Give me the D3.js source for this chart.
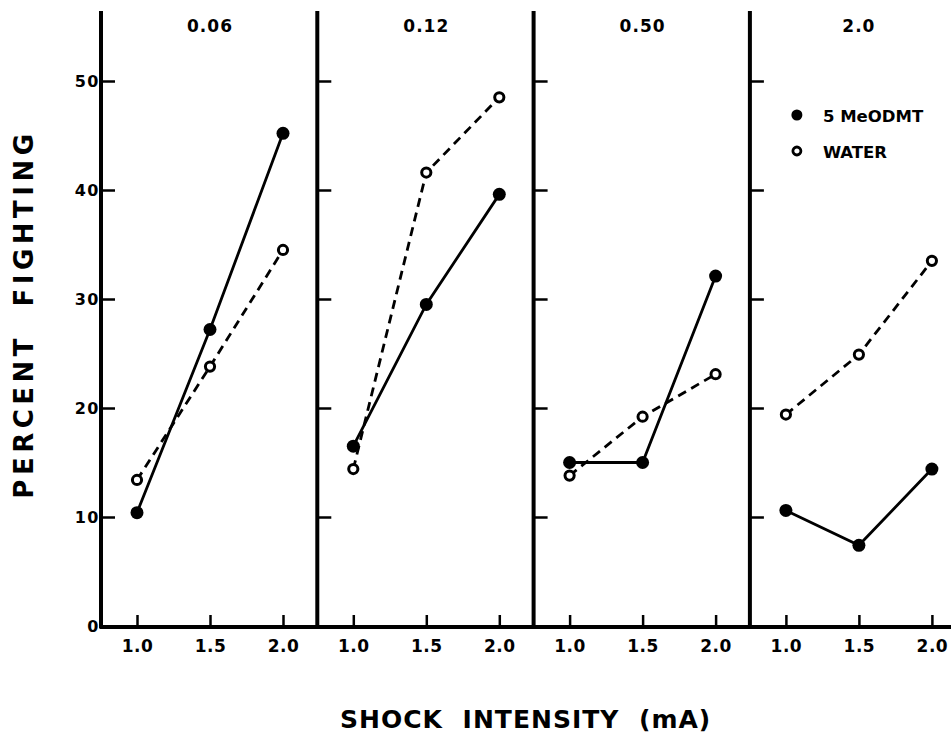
<!DOCTYPE html>
<html>
<head>
<meta charset="utf-8">
<script src="https://cdn.jsdelivr.net/npm/d3@7"></script>
<style>
  body { margin: 0; background: #fff; }
  svg { display: block; }
  text { font-family: "DejaVu Sans", sans-serif; font-weight: bold; fill: #000; }
</style>
</head>
<body>
<div id="chart"></div>
<script>
// drug dose panels (mg/kg) and shock levels
const doses = ["0.06", "0.12", "0.50", "2.0"];
const shocks = [1.0, 1.5, 2.0];

// percent fighting, one row per dose panel
const drugPct  = [[10.4, 27.2, 45.2], [16.5, 29.5, 39.6], [15.0, 15.0, 32.1], [10.6, 7.4, 14.4]];
const waterPct = [[13.4, 23.8, 34.5], [14.4, 41.6, 48.5], [13.8, 19.2, 23.1], [19.4, 24.9, 33.5]];

const yTicks = [0, 10, 20, 30, 40, 50];
const legendLabels = ["5 MeODMT", "WATER"];

const width = 951, height = 735;
const axisTop = 11;

const svg = d3.select("#chart").append("svg")
    .attr("width", width)
    .attr("height", height);

// one band per panel
const panel = d3.scaleBand()
    .domain(doses)
    .range([101, 101 + 4 * 216.3]);

const y = d3.scaleLinear().domain([0, 50]).range([626, 81]);
const x = d3.scaleLinear().domain([1, 2]).range([36, 182]);

// x axis base line across all panels
svg.append("line")
    .attr("x1", panel("0.06") - 1.5).attr("x2", width)
    .attr("y1", y(0) + 1).attr("y2", y(0) + 1)
    .attr("stroke", "#000").attr("stroke-width", 4);

const line = d3.line()
    .x((d, i) => x(shocks[i]))
    .y(d => y(d));

doses.forEach((dose, p) => {
    const g = svg.append("g")
        .attr("transform", "translate(" + panel(dose) + ",0)");

    // vertical axis line
    g.append("line")
        .attr("x1", 0).attr("x2", 0)
        .attr("y1", axisTop).attr("y2", y(0) + 2)
        .attr("stroke", "#000").attr("stroke-width", 4);

    // inward y ticks
    const yAxis = g.append("g")
        .call(d3.axisRight(y).tickValues(yTicks.slice(1)).tickSize(14).tickFormat(""));
    yAxis.select(".domain").remove();
    yAxis.selectAll(".tick line").attr("stroke-width", 2.5);

    // x ticks pointing up, labels below
    const xAxis = g.append("g")
        .attr("transform", "translate(0," + (y(0) + 1) + ")")
        .call(d3.axisBottom(x).tickValues(shocks).tickSize(-12).tickPadding(13).tickFormat(d3.format(".1f")));
    xAxis.select(".domain").remove();
    xAxis.selectAll(".tick line").attr("stroke-width", 2.5);
    xAxis.selectAll(".tick text")
        .attr("font-size", 17)
        .attr("font-family", "DejaVu Sans")
        .attr("font-weight", "bold")
        .attr("letter-spacing", 0.5);

    // panel title
    g.append("text")
        .attr("x", x(1.5))
        .attr("y", 32)
        .attr("text-anchor", "middle")
        .attr("font-size", 17)
        .attr("letter-spacing", 1)
        .text(dose);

    // water: dashed line, drug: solid line
    g.append("path")
        .attr("d", line(waterPct[p]))
        .attr("fill", "none").attr("stroke", "#000")
        .attr("stroke-width", 2.8)
        .attr("stroke-dasharray", "9,6");
    g.append("path")
        .attr("d", line(drugPct[p]))
        .attr("fill", "none").attr("stroke", "#000")
        .attr("stroke-width", 2.8);

    g.selectAll(".water").data(waterPct[p]).join("circle")
        .attr("class", "water")
        .attr("cx", (d, i) => x(shocks[i]))
        .attr("cy", d => y(d))
        .attr("r", 4.6)
        .attr("fill", "#fff").attr("stroke", "#000").attr("stroke-width", 3);
    g.selectAll(".drug").data(drugPct[p]).join("circle")
        .attr("class", "drug")
        .attr("cx", (d, i) => x(shocks[i]))
        .attr("cy", d => y(d))
        .attr("r", 6.5)
        .attr("fill", "#000");
});

// y tick labels on first panel only
const yLab = svg.append("g")
    .attr("transform", "translate(" + (panel("0.06") + 1) + ",0)")
    .call(d3.axisLeft(y).tickValues(yTicks).tickSize(0).tickPadding(2).tickFormat(d3.format("d")));
yLab.select(".domain").remove();
yLab.selectAll(".tick text")
    .attr("font-size", 16)
    .attr("font-family", "DejaVu Sans")
    .attr("font-weight", "bold")
    .attr("letter-spacing", 1.5);

// legend in last panel
const legend = svg.append("g")
    .attr("transform", "translate(" + (panel("2.0") + 47) + ",115)");
legendLabels.forEach((lab, i) => {
    const row = legend.append("g").attr("transform", "translate(0," + (i * 36) + ")");
    if (i === 0) {
        row.append("circle").attr("r", 5.5).attr("fill", "#000");
    } else {
        row.append("circle").attr("r", 4).attr("fill", "#fff")
            .attr("stroke", "#000").attr("stroke-width", 2.8);
    }
    row.append("text")
        .attr("x", 26).attr("y", 7)
        .attr("font-size", 16.5)
        .text(lab);
});

// axis titles
svg.append("text")
    .attr("transform", "translate(33,314) rotate(-90)")
    .attr("text-anchor", "middle")
    .attr("font-size", 26)
    .attr("letter-spacing", 4.5)
    .attr("word-spacing", 14)
    .text("PERCENT FIGHTING");

svg.append("text")
    .attr("x", 340)
    .attr("y", 728)
    .attr("font-size", 25)
    .attr("letter-spacing", 1)
    .attr("word-spacing", 10)
    .text("SHOCK INTENSITY (mA)");
</script>
</body>
</html>
